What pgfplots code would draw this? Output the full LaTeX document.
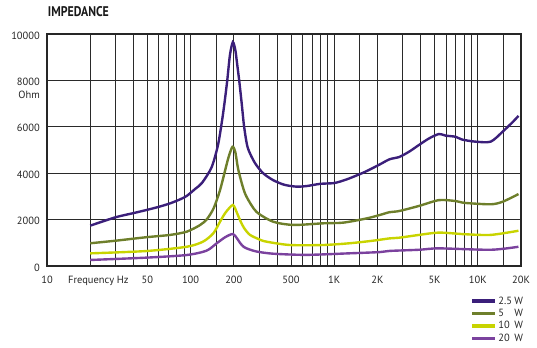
\documentclass[border=0pt]{standalone}
\usepackage{graphicx}
\usepackage{pgfplots}
\pgfplotsset{compat=1.18}
\usepackage{fontspec}
\setmainfont{PT Sans}
\definecolor{cA}{HTML}{3B1F7A}
\definecolor{cB}{HTML}{6E7F2B}
\definecolor{cC}{HTML}{C8D400}
\definecolor{cD}{HTML}{7B429E}
\definecolor{gridc}{HTML}{2A2A2A}
\begin{document}
\begin{tikzpicture}
\path[use as bounding box] (0,0) rectangle (537bp,-348bp);
\node[anchor=south west, inner sep=0pt, text=black!90] at (47.7bp,-17bp) {\resizebox{61bp}{10bp}{\bfseries IMPEDANCE}};
\begin{axis}[
  at={(47bp,-266bp)}, anchor=south west,
  scale only axis, width=474bp, height=232bp,
  xmode=log, xmin=10, xmax=20000, ymin=0, ymax=10000,
  xtick={10,50,100,200,500,1000,2000,5000,10000,20000},
  xticklabels={10,50,100,200,500,1K,2K,5K,10K,20K},
  minor xtick={20,30,40,60,70,80,90,150,300,400,600,700,800,900,1500,3000,4000,6000,7000,8000,9000,15000},
  ytick={0,2000,4000,6000,8000,10000},
  yticklabels={0,2000,4000,6000,8000,10000},
  scaled y ticks=false,
  major tick length=0pt, minor tick length=0pt,
  grid=both,
  major grid style={gridc, line width=0.7pt},
  minor grid style={gridc, line width=0.7pt},
  axis line style={black!85, line width=1.3pt},
  tick label style={font=\fontsize{10.5}{12}\selectfont, text=black!85},
  xticklabel style={anchor=base, yshift=-17.5bp},
  yticklabel style={anchor=east, inner sep=0pt, xshift=-7bp, yshift=-1.5bp},
  legend cell align=left,
  legend style={draw=none, fill=none, at={(0.893,-0.125)}, anchor=north west,
    inner sep=0pt, row sep=0.5bp,
    font=\fontsize{10.5}{12}\selectfont, text=black!85,
    nodes={inner sep=1.5bp}},
  legend image code/.code={\draw[#1, line width=3.5bp] (0bp,0bp) -- (23bp,0bp);},
  every axis plot/.append style={line width=2.4pt, smooth, tension=0.45},
]
\addplot[cA] coordinates {(20,1740)(30,2100)(40,2280)(49,2410)(60,2550)(72,2700)(85,2880)(94,3020)(108,3330)(120,3580)(140,4250)(155,5200)(165,6200)(172,7000)(180,8000)(188,9100)(197,9650)(205,9300)(211,8700)(218,8000)(227,7000)(236,6000)(250,5100)(280,4450)(320,4000)(376,3700)(450,3500)(548,3420)(650,3450)(796,3540)(982,3570)(1100,3640)(1280,3780)(1590,4020)(1800,4180)(2080,4380)(2430,4600)(2840,4700)(3330,4930)(3900,5220)(4580,5500)(5370,5690)(5970,5620)(7000,5570)(7780,5450)(9630,5360)(12300,5360)(14900,5790)(17600,6220)(19200,6470)};
\addlegendentry{\makebox[16bp][l]{2.5}W}
\addplot[cB] coordinates {(20,980)(30,1090)(49,1240)(72,1340)(94,1480)(116,1760)(130,2020)(145,2500)(160,3250)(172,4000)(184,4700)(196,5140)(205,4900)(214,4200)(230,3450)(245,2990)(287,2340)(376,1910)(520,1770)(838,1840)(1160,1870)(1680,2050)(2080,2200)(2430,2320)(2840,2370)(3900,2590)(5370,2840)(7000,2800)(8130,2720)(12300,2660)(14900,2770)(19200,3100)};
\addlegendentry{\makebox[16bp][l]{5}W}
\addplot[cC] coordinates {(20,545)(49,645)(94,830)(122,1050)(144,1410)(160,1900)(175,2300)(197,2630)(210,2300)(222,1950)(235,1650)(258,1350)(300,1150)(337,1050)(491,905)(838,905)(1280,980)(1860,1090)(2430,1190)(2840,1220)(3900,1340)(5370,1440)(8130,1370)(12300,1340)(19200,1520)};
\addlegendentry{\makebox[16bp][l]{10}W}
\addplot[cD] coordinates {(20,260)(49,360)(94,474)(129,660)(152,980)(175,1250)(197,1380)(210,1200)(222,980)(235,820)(255,720)(290,620)(376,530)(640,480)(1280,547)(2080,600)(2430,650)(3900,700)(5370,760)(12300,700)(19200,830)};
\addlegendentry{\makebox[16bp][l]{20}W}
\end{axis}
\node[anchor=east, inner sep=0pt, font=\fontsize{10.5}{12}\selectfont, text=black!85] at (40bp,-95bp) {Ohm};
\node[anchor=base west, inner sep=0pt, font=\fontsize{10.5}{12}\selectfont, text=black!85] at (68bp,-283.5bp) {Frequency Hz};
\end{tikzpicture}
\end{document}
